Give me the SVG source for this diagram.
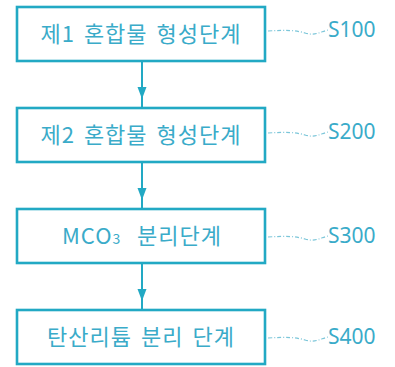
<svg xmlns="http://www.w3.org/2000/svg" width="395" height="367" viewBox="0 0 395 367">
<style>
.box{fill:#fff;stroke:#22a9c4;stroke-width:2.6}
.t{font-family:"Noto Sans CJK KR","Noto Sans",sans-serif;font-size:22px;fill:#3aabc9;text-anchor:middle;letter-spacing:1px;word-spacing:3px}
.ts{font-family:"Noto Sans CJK KR","Noto Sans",sans-serif;font-size:22px;fill:#3aabc9;letter-spacing:1px}
.lbl{font-family:"Noto Sans","Noto Sans CJK KR",sans-serif;font-size:21px;fill:#3aabc9}
.lead{fill:none;stroke:#7cc6d9;stroke-width:1.2;stroke-dasharray:4 2 1 2}
.conn{stroke:#22a9c4;stroke-width:2;fill:none}
.head{fill:#22a9c4}
</style>
<rect width="395" height="367" fill="#fff"/>
<g id="connectors">
<line class="conn" x1="142" y1="61" x2="142" y2="108"/>
<polygon class="head" points="137.5,87 146.5,87 142,99"/>
<line class="conn" x1="142" y1="162" x2="142" y2="209"/>
<polygon class="head" points="137.5,188 146.5,188 142,200"/>
<line class="conn" x1="142" y1="263" x2="142" y2="310"/>
<polygon class="head" points="137.5,289 146.5,289 142,301"/>
<path class="lead" d="M268,31 C285,30 295,30 305,33 C315,36 320,32 328,30"/>
<path class="lead" d="M268,133 C285,132 295,132 305,135 C315,138 320,134 328,132"/>
<path class="lead" d="M268,237 C285,236 295,236 305,239 C315,242 320,238 328,236"/>
<path class="lead" d="M268,338 C285,337 295,337 305,340 C315,343 320,339 328,337"/>
</g>
<g id="s100">
<rect class="box" x="17" y="7" width="248" height="54"/>
<text class="t" x="141" y="42">제1 혼합물 형성단계</text>
<text class="lbl" x="328" y="36.5">S100</text>
</g>
<g id="s200">
<rect class="box" x="17" y="108" width="248" height="54"/>
<text class="t" x="141" y="143">제2 혼합물 형성단계</text>
<text class="lbl" x="328" y="138.5">S200</text>
</g>
<g id="s300">
<rect class="box" x="17" y="209" width="248" height="54"/>
<text class="ts" x="62" y="244">MCO<tspan font-size="14">3</tspan><tspan x="137">분리단계</tspan></text>
<text class="lbl" x="328" y="242.5">S300</text>
</g>
<g id="s400">
<rect class="box" x="17" y="310" width="248" height="54"/>
<text class="t" x="141" y="345">탄산리튬 분리 단계</text>
<text class="lbl" x="328" y="343.5">S400</text>
</g>
</svg>
